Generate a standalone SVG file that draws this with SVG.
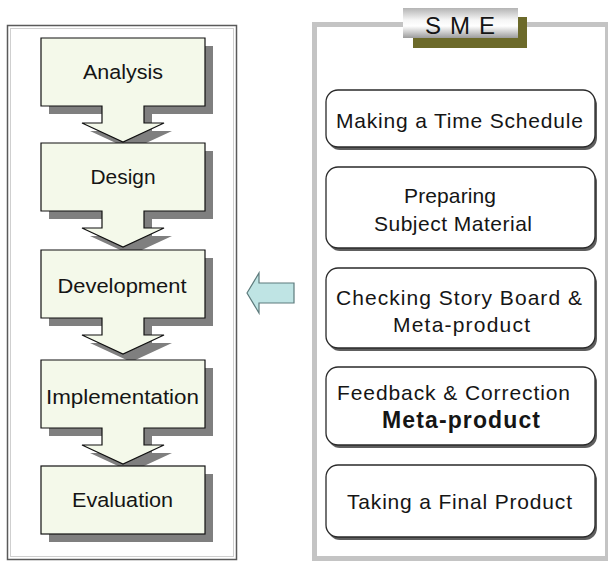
<svg xmlns="http://www.w3.org/2000/svg" xmlns:xlink="http://www.w3.org/1999/xlink" width="608" height="562" viewBox="0 0 608 562">
  <style>
    .txt { font-family: "Liberation Sans", Arial, sans-serif; fill: #151515; }
    .step { fill: #f4f9ea; stroke: #111; stroke-width: 1.2; }
    .stepShadow { fill: #7f7f7f; stroke: none; }
    .task { fill: #ffffff; stroke: #2a2a2a; stroke-width: 1.3; }
    .taskShadow { fill: #5e5e5e; stroke: none; }
  </style>
  <defs>
    <!-- box with a downward block arrow under it (origin = box top) -->
    <path id="stepArrow" d="M41,0 H205 V68 H144 V85 H164 L123,104 L82,85 H102 V68 H41 Z"/>
    <rect id="stepBox" x="41" y="0" width="164" height="68"/>
    <linearGradient id="tabGrad" x1="0" y1="0" x2="0" y2="1">
      <stop offset="0" stop-color="#b4b4b4"/>
      <stop offset="0.4" stop-color="#f6f6f6"/>
      <stop offset="0.6" stop-color="#ffffff"/>
      <stop offset="1" stop-color="#9c9c9c"/>
    </linearGradient>
  </defs>

  <rect width="608" height="562" fill="#ffffff"/>

  <!-- left frame: process phases -->
  <g id="phase-frame">
    <rect x="7.5" y="25.5" width="229" height="534" fill="#ffffff" stroke="#5a5a5a" stroke-width="1.5"/>
    <rect x="10.5" y="28.5" width="223" height="528" fill="none" stroke="#cfcfcf" stroke-width="1"/>
  </g>

  <g id="node-analysis" transform="translate(0,38)">
    <use xlink:href="#stepArrow" class="stepShadow" x="8" y="8"/>
    <use xlink:href="#stepArrow" class="step"/>
    <text class="txt" x="123" y="41" font-size="20.5" text-anchor="middle" textLength="80" lengthAdjust="spacingAndGlyphs">Analysis</text>
  </g>

  <g id="node-design" transform="translate(0,143)">
    <use xlink:href="#stepArrow" class="stepShadow" x="8" y="8"/>
    <use xlink:href="#stepArrow" class="step"/>
    <text class="txt" x="123" y="41" font-size="20.5" text-anchor="middle" textLength="65" lengthAdjust="spacingAndGlyphs">Design</text>
  </g>

  <g id="node-development" transform="translate(0,250)">
    <use xlink:href="#stepArrow" class="stepShadow" x="8" y="8"/>
    <use xlink:href="#stepArrow" class="step"/>
    <text class="txt" x="122" y="43" font-size="20.5" text-anchor="middle" textLength="129" lengthAdjust="spacingAndGlyphs">Development</text>
  </g>

  <g id="node-implementation" transform="translate(0,360)">
    <use xlink:href="#stepArrow" class="stepShadow" x="8" y="8"/>
    <use xlink:href="#stepArrow" class="step"/>
    <text class="txt" x="122.5" y="44" font-size="20.5" text-anchor="middle" textLength="153" lengthAdjust="spacingAndGlyphs">Implementation</text>
  </g>

  <g id="node-evaluation" transform="translate(0,466)">
    <use xlink:href="#stepBox" class="stepShadow" x="8" y="8"/>
    <use xlink:href="#stepBox" class="step"/>
    <text class="txt" x="122.5" y="41" font-size="20.5" text-anchor="middle" textLength="101" lengthAdjust="spacingAndGlyphs">Evaluation</text>
  </g>

  <!-- right frame: SME activities -->
  <g id="sme-frame">
    <rect x="314.5" y="24.5" width="293" height="534" fill="#ffffff" stroke="#c4c4c4" stroke-width="5"/>
    <rect x="413" y="17" width="114" height="31" fill="#6c6a2a"/>
    <rect x="403" y="8" width="115" height="30" fill="url(#tabGrad)"/>
    <text class="txt" x="425" y="33.5" font-size="24" textLength="70" lengthAdjust="spacing">S M E</text>
  </g>

  <g id="node-schedule">
    <rect x="328" y="93" width="269" height="57" rx="12" class="taskShadow"/>
    <rect x="326" y="90" width="269" height="57" rx="12" class="task"/>
    <text class="txt" x="336" y="128" font-size="21" textLength="247" lengthAdjust="spacing">Making a Time Schedule</text>
  </g>

  <g id="node-material">
    <rect x="328" y="170" width="269" height="81" rx="12" class="taskShadow"/>
    <rect x="326" y="167" width="269" height="81" rx="12" class="task"/>
    <text class="txt" x="404" y="203" font-size="21" textLength="92" lengthAdjust="spacing">Preparing</text>
    <text class="txt" x="374" y="231" font-size="21" textLength="158" lengthAdjust="spacing">Subject Material</text>
  </g>

  <g id="node-storyboard">
    <rect x="328" y="271" width="269" height="80" rx="12" class="taskShadow"/>
    <rect x="326" y="268" width="269" height="80" rx="12" class="task"/>
    <text class="txt" x="336" y="305" font-size="21" textLength="246" lengthAdjust="spacing">Checking Story Board &amp;</text>
    <text class="txt" x="393" y="332" font-size="21" textLength="137" lengthAdjust="spacing">Meta-product</text>
  </g>

  <g id="node-feedback">
    <rect x="328" y="370" width="269" height="78" rx="12" class="taskShadow"/>
    <rect x="326" y="367" width="269" height="78" rx="12" class="task"/>
    <text class="txt" x="337" y="400" font-size="21" textLength="233" lengthAdjust="spacing">Feedback &amp; Correction</text>
    <text class="txt" x="382" y="428" font-size="23" font-weight="bold" textLength="158" lengthAdjust="spacing">Meta-product</text>
  </g>

  <g id="node-final">
    <rect x="328" y="468" width="269" height="72" rx="12" class="taskShadow"/>
    <rect x="326" y="465" width="269" height="72" rx="12" class="task"/>
    <text class="txt" x="347" y="509" font-size="21" textLength="225" lengthAdjust="spacing">Taking a Final Product</text>
  </g>

  <!-- connector: SME activities feed the development phase -->
  <g id="connectors">
    <polygon points="247,293 259,273 259,283 294,283 294,303 259,303 259,313" fill="#bfe4e4" stroke="#5d7b7c" stroke-width="1.2"/>
  </g>
</svg>
